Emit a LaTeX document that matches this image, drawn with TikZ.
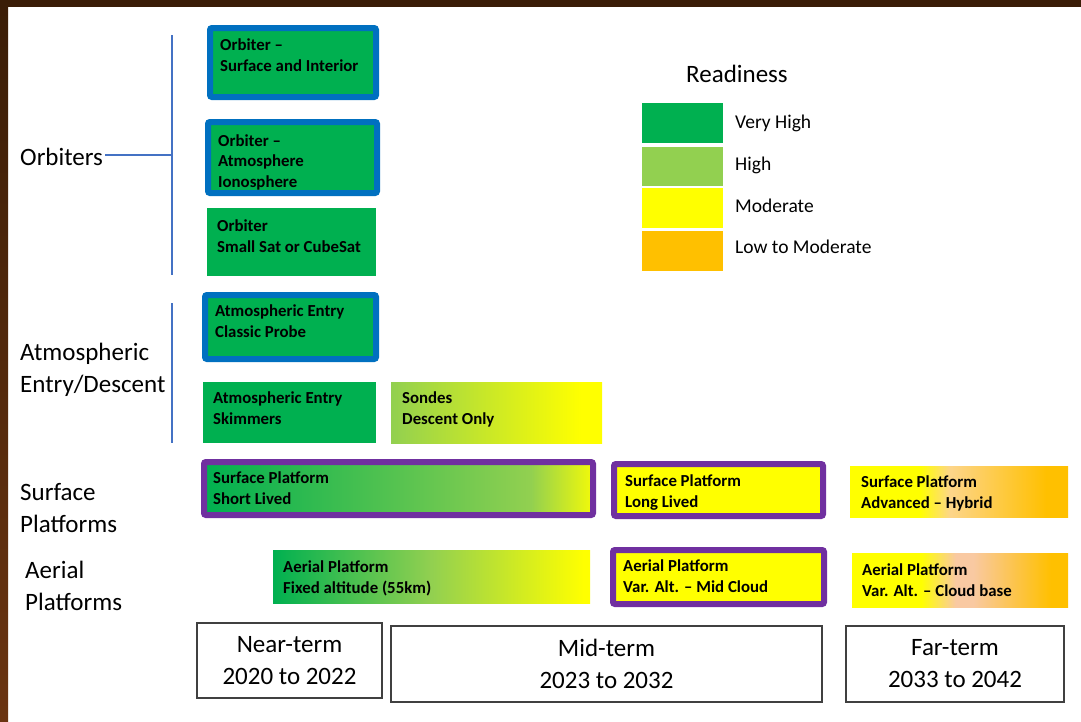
\documentclass[tikz,border=0pt]{standalone}
\usepackage{fontspec}
\setmainfont{Carlito}
\usepackage{tikz}
\usetikzlibrary{calc}
\tikzset{>=latex}

\definecolor{vhigh}{HTML}{00B050}
\definecolor{high}{HTML}{92D050}
\definecolor{moder}{HTML}{FFFF00}
\definecolor{lowmod}{HTML}{FFC000}
\definecolor{peach}{HTML}{F9C9A2}
\definecolor{paleorange}{HTML}{FDD58A}
\definecolor{rimblue}{HTML}{0070C0}
\definecolor{rimpurple}{HTML}{7030A0}
\definecolor{brktblue}{HTML}{4472C4}
\definecolor{framedark}{HTML}{3A1D07}
\definecolor{framelight}{HTML}{6A3411}

\pgfdeclarehorizontalshading{sondes}{100bp}{color(0bp)=(high); color(25bp)=(high); color(70bp)=(moder); color(100bp)=(moder)}
\pgfdeclarehorizontalshading{shortlived}{100bp}{color(0bp)=(vhigh); color(25bp)=(vhigh); color(67bp)=(high); color(76bp)=(moder); color(100bp)=(moder)}
\pgfdeclarehorizontalshading{fixedalt}{100bp}{color(0bp)=(vhigh); color(25bp)=(vhigh); color(50bp)=(high); color(74bp)=(moder); color(100bp)=(moder)}
\pgfdeclarehorizontalshading{hybrid}{100bp}{color(0bp)=(moder); color(25bp)=(moder); color(41bp)=(moder); color(48bp)=(paleorange); color(70bp)=(lowmod); color(100bp)=(lowmod)}
\pgfdeclarehorizontalshading{cloudbase}{100bp}{color(0bp)=(moder); color(25bp)=(moder); color(41bp)=(moder); color(49bp)=(peach); color(53bp)=(peach); color(71bp)=(lowmod); color(100bp)=(lowmod)}

% multi-line nodes sit on the baseline of their last line
\tikzstyle{tier}=[font=\bfseries\fontsize{16.8}{20.5}\selectfont, anchor=base west, inner sep=0pt, align=left]
\tikzstyle{catlabel}=[font=\fontsize{25}{32}\selectfont, anchor=base west, inner sep=0pt, align=left]
\tikzstyle{keytext}=[font=\fontsize{19.5}{24}\selectfont, anchor=base west, inner sep=0pt]
\tikzstyle{term}=[draw=black!75, line width=1.2pt, align=center, font=\fontsize{25}{32}\selectfont]
\tikzstyle{bluerim}=[draw=rimblue, line width=6pt, rounded corners=2pt]
\tikzstyle{purplerim}=[draw=rimpurple, line width=6pt, rounded corners=2pt]

\begin{document}
\begin{tikzpicture}[x=1pt,y=-1pt]
  \useasboundingbox (0,0) rectangle (1081,721);
  \fill[white] (0,0) rectangle (1081,721);
  % frame
  \fill[framedark] (0,0) rectangle (1081,7);
  \shade[top color=framedark, bottom color=framelight] (0,0) rectangle (8,721);

  % group labels
  \node[catlabel] (orb) at (20,165) {Orbiters};
  \node[catlabel] (atm) at (20,392) {Atmospheric\\Entry/Descent};
  \node[catlabel] (surf) at (20,532) {Surface\\Platforms};
  \node[catlabel] (aer) at (25,610) {Aerial\\Platforms};
  \coordinate (orbbrk) at (172,155);
  \draw[brktblue, line width=1.5pt] (172,35) -- (172,275);
  \draw[brktblue, line width=1.5pt] (172,303) -- (172,443);
  \draw[brktblue, line width=1.2pt] (orb.east |- orbbrk) ++(2,0) -- (orbbrk);

  % orbiters
  \path[bluerim, fill=vhigh] (210,28) rectangle (376,97);
  \node[tier] (orbsurf) at (220,71) {Orbiter --\\Surface and Interior};
  \path[bluerim, fill=vhigh] (208,122) rectangle (377,193);
  \node[tier] (orbatmo) at (218,187) {Orbiter --\\Atmosphere\\Ionosphere};
  \fill[vhigh] (207,208) rectangle (376,276);
  \node[tier] (orbsmall) at (217,252) {Orbiter\\Small Sat or CubeSat};

  % entry / descent
  \path[bluerim, fill=vhigh] (205,295) rectangle (376,359);
  \node[tier] (probe) at (215,337) {Atmospheric Entry\\Classic Probe};
  \fill[vhigh] (203,382) rectangle (376,443);
  \node[tier] (skim) at (213,424) {Atmospheric Entry\\Skimmers};
  \shade[shading=sondes] (391,382) rectangle (602,443);
  \node[tier] (sonde) at (402,424) {Sondes\\Descent Only};

  % surface platforms
  \path[purplerim, shading=shortlived] (204,462) rectangle (593,515);
  \node[tier] (surfshort) at (213,504) {Surface Platform\\Short Lived};
  \path[purplerim, fill=moder] (614,464) rectangle (823,516);
  \node[tier] (surflong) at (625,507) {Surface Platform\\Long Lived};
  \shade[shading=hybrid] (850,466) rectangle (1068,517);
  \node[tier] (surfadv) at (861,508) {Surface Platform\\Advanced -- Hybrid};

  % aerial platforms
  \shade[shading=fixedalt] (273,550) rectangle (590,603);
  \node[tier] (aerfix) at (283,593) {Aerial Platform\\Fixed altitude (55km)};
  \path[purplerim, fill=moder] (613,550) rectangle (824,604);
  \node[tier] (aermid) at (623,592) {Aerial Platform\\Var. Alt. -- Mid Cloud};
  \shade[shading=cloudbase] (852,553) rectangle (1068,607);
  \node[tier] (aercloud) at (862,596) {Aerial Platform\\Var. Alt. -- Cloud base};

  % time frames
  \node[term, minimum width=185, minimum height=75] (near) at (289.5,660.5) {Near-term\\2020 to 2022};
  \node[term, minimum width=431, minimum height=76] (mid) at (606.5,664) {Mid-term\\2023 to 2032};
  \node[term, minimum width=218, minimum height=76] (far) at (955,664) {Far-term\\2033 to 2042};

  % legend
  \node[keytext, font=\fontsize{25}{30}\selectfont] (ready) at (686,82) {Readiness};
  \fill[vhigh] (642,103) rectangle (723,143);
  \fill[high] (642,147) rectangle (723,186);
  \fill[moder] (642,188) rectangle (723,228);
  \fill[lowmod] (642,231) rectangle (723,271);
  \node[keytext] (kvh) at (735,128) {Very High};
  \node[keytext] (kh) at (735,170) {High};
  \node[keytext] (km) at (735,212) {Moderate};
  \node[keytext] (klm) at (735,253) {Low to Moderate};
\end{tikzpicture}
\end{document}
